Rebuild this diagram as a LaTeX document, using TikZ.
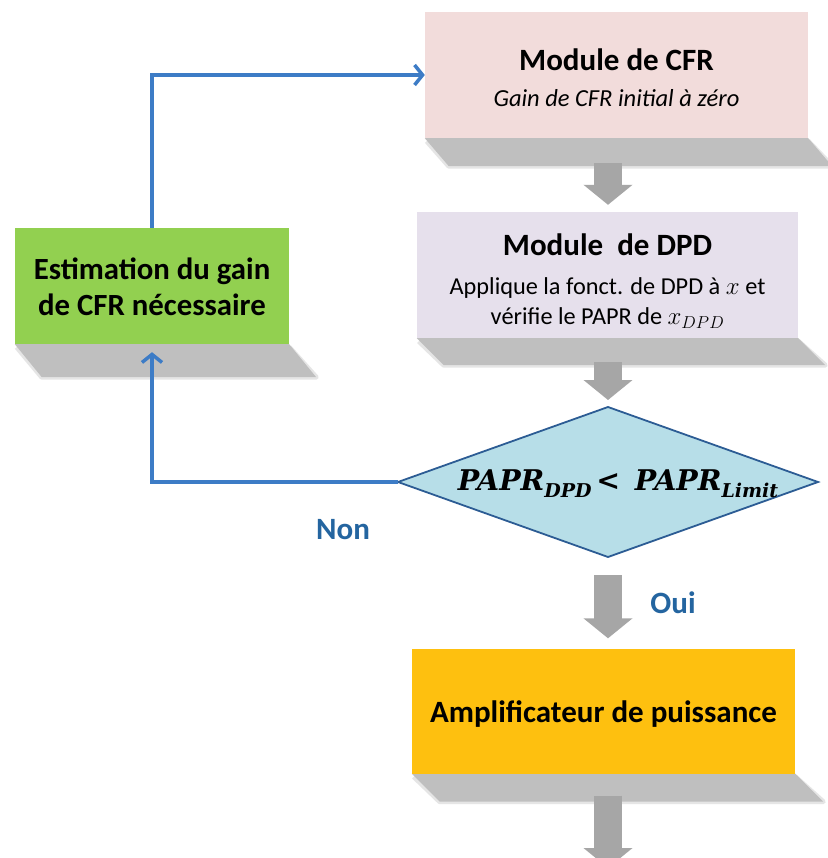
\documentclass[tikz,border=0pt]{standalone}
\usepackage{fontspec}
\setmainfont{Carlito}
\newfontfamily\condfont{DejaVu Serif}
\usetikzlibrary{arrows.meta,calc,backgrounds}
\definecolor{cfrpink}{HTML}{F2DCDB}
\definecolor{dpdlav}{HTML}{E6E0EC}
\definecolor{estgreen}{HTML}{92D050}
\definecolor{ampyel}{HTML}{FEC00F}
\definecolor{condblue}{HTML}{B7DEE8}
\definecolor{condedge}{HTML}{2C5C94}
\definecolor{loopblue}{HTML}{3D7CC6}
\definecolor{labblue}{HTML}{2465A0}
\definecolor{arrowgray}{HTML}{A6A6A6}
\definecolor{shadowgray}{HTML}{BFBFBF}
\newcommand{\boxshadow}[3]{%
  \fill[shadowgray] (#1.south west) -- (#1.south east) -- ($(#1.south east)+(#2,#3)$) -- ($(#1.south west)+(#2,#3)$) -- cycle;
  \draw[shadowedge] ($(#1.south west)+(2,3)$) -- ($(#1.south west)+(#2,#3)$) -- ($(#1.south east)+(#2,#3)$) -- ($(#1.south east)+(0,3)$);}
\begin{document}
\begin{tikzpicture}[x=1pt,y=-1pt,
  box/.style={inner sep=0pt, text=black},
  boxtext/.style={inner sep=0pt, align=center, text=black},
  blockarrow/.style={draw=arrowgray, line width=28pt, -{Triangle[length=20pt,width=48pt,fill=arrowgray]}},
  loopline/.style={draw=loopblue, line width=3.5pt, -{Straight Barb[length=8pt,width=20pt]}},
  shadowedge/.style={draw=shadowgray, line width=5pt, opacity=.4, line join=round},
  lab/.style={text=labblue, font=\fontsize{31}{36}\selectfont\bfseries}]
\useasboundingbox (0,0) rectangle (827,858);

% boxes
\node[box, fill=cfrpink, minimum width=383pt, minimum height=126pt] (cfr) at (616.5,75) {};
\node[boxtext, font=\fontsize{24.5}{36}\selectfont] (cfrtxt) at ($(cfr.center)+(0,3)$)
  {{\fontsize{31}{36}\selectfont\bfseries Module de CFR}\\
   {\itshape Gain de CFR initial à zéro}};
\node[box, fill=dpdlav, minimum width=381pt, minimum height=126pt] (dpd) at (607.5,275) {};
\node[boxtext, font=\fontsize{24.3}{30}\selectfont] (dpdtxt) at ($(dpd.center)+(0,6)$)
  {{\fontsize{31}{30}\selectfont\bfseries Module\ \ de DPD}\\[9pt]
   Applique la fonct. de DPD à $x$ et\\
   vérifie le PAPR de $x_{DPD}$};
\node[box, fill=estgreen, minimum width=274pt, minimum height=116pt] (est) at (152,286) {};
\node[boxtext, font=\fontsize{30.8}{36}\selectfont\bfseries] (esttxt) at ($(est.center)+(0,1)$)
  {Estimation du gain\\ de CFR nécessaire};
\node[box, fill=ampyel, minimum width=383pt, minimum height=125pt] (amp) at (603.5,711) {};
\node[boxtext, font=\fontsize{31}{36}\selectfont\bfseries] (amptxt) at ($(amp.center)+(0,3)$)
  {Amplificateur de puissance};

% decision
\coordinate (cl) at (398,482);
\coordinate (ct) at (608,407);
\coordinate (cr) at (818,482);
\coordinate (cb) at (608,557);
\coordinate (sink) at (608,868);
\coordinate (esttip) at ($(est.south)+(0,8)$);
\draw[fill=condblue, draw=condedge, line width=1.8pt, line join=miter] (cl) -- (ct) -- (cr) -- (cb) -- cycle;
\node[inner sep=0pt] (cond) at (618,484)
  {\condfont\bfseries\itshape\fontsize{28.5}{30}\selectfont PAPR\lower7pt\hbox{\fontsize{19}{19}\selectfont DPD}\,<\,\ PAPR\lower7pt\hbox{\fontsize{19}{19}\selectfont Limit}};

% shadows
\begin{scope}[on background layer]
  \fill[white] (0,0) rectangle (827,858);
  \boxshadow{cfr}{24}{28}
  \boxshadow{dpd}{27}{27}
  \boxshadow{est}{27}{33}
  \boxshadow{amp}{28}{28}
\end{scope}

% gray block arrows
\draw[blockarrow] ($(cfr.south -| ct)+(0,25)$) -- ($(dpd.north -| ct)+(0,-7)$);
\draw[blockarrow] ($(dpd.south -| ct)+(0,24)$) -- ($(ct)+(0,-7)$);
\draw[blockarrow] ($(cb)+(0,18)$) -- ($(amp.north -| cb)+(0,-10)$);
\draw[blockarrow] ($(amp.south -| cb)+(0,22)$) -- (sink);

% loop connectors
\draw[loopline] (est.north) |- (cfr.west);
\draw[loopline] (cl) -| (esttip);

% labels
\node[lab] (non) at (343,530) {Non};
\node[lab] (oui) at (673,603) {Oui};
\end{tikzpicture}
\end{document}
